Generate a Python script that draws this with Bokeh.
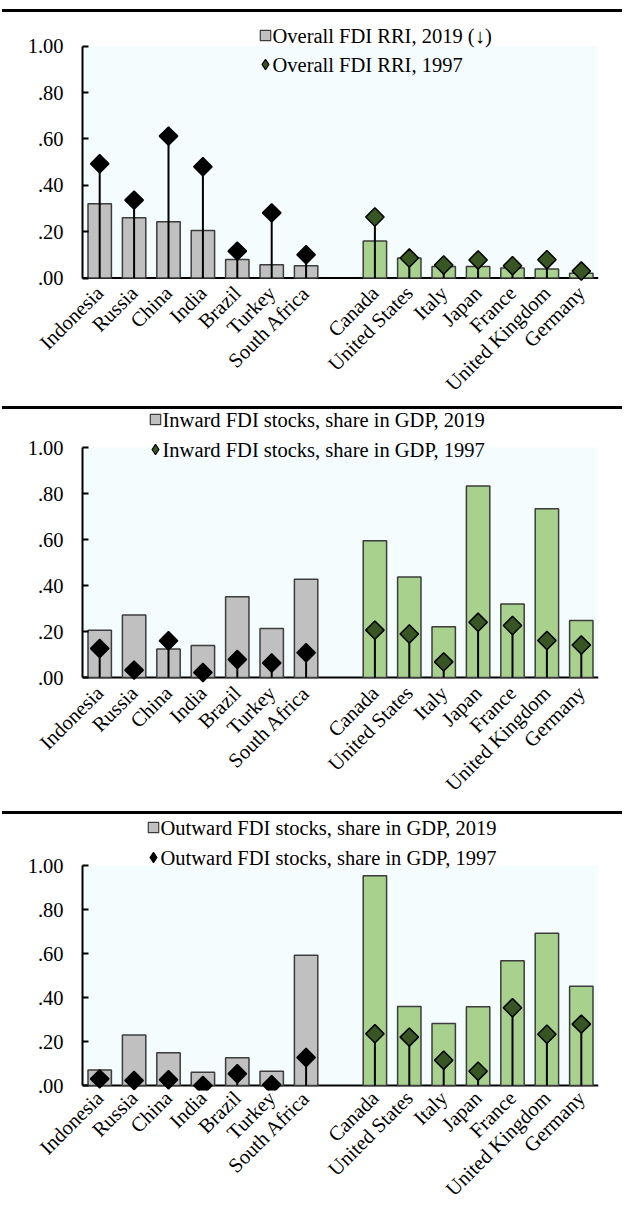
import numpy as np
from bokeh.plotting import figure
from bokeh.models import (Range1d, FixedTicker, CustomJSTickFormatter, Span, Label,
                          BoxAnnotation, Legend, LegendItem, Div)
from bokeh.layouts import column
from bokeh.embed import file_html
from bokeh.resources import INLINE

# ---------------- data ----------------
emerging = ["Indonesia", "Russia", "China", "India", "Brazil", "Turkey", "South Africa"]
advanced = ["Canada", "United States", "Italy", "Japan", "France", "United Kingdom", "Germany"]

rri_2019_em = [0.320, 0.260, 0.243, 0.205, 0.080, 0.057, 0.053]
rri_1997_em = [0.493, 0.336, 0.612, 0.480, 0.116, 0.281, 0.100]
rri_2019_ad = [0.160, 0.086, 0.050, 0.050, 0.043, 0.039, 0.020]
rri_1997_ad = [0.263, 0.086, 0.056, 0.078, 0.053, 0.079, 0.030]

inward_2019_em = [0.205, 0.272, 0.124, 0.139, 0.351, 0.213, 0.427]
inward_1997_em = [0.126, 0.032, 0.160, 0.022, 0.078, 0.063, 0.108]
inward_2019_ad = [0.595, 0.437, 0.221, 0.833, 0.320, 0.734, 0.248]
inward_1997_ad = [0.206, 0.189, 0.068, 0.240, 0.226, 0.161, 0.141]

outward_2019_em = [0.071, 0.229, 0.149, 0.060, 0.126, 0.065, 0.592]
outward_1997_em = [0.030, 0.023, 0.026, 0.000, 0.053, 0.003, 0.127]
outward_2019_ad = [0.953, 0.359, 0.282, 0.358, 0.567, 0.692, 0.451]
outward_1997_ad = [0.235, 0.220, 0.115, 0.065, 0.353, 0.233, 0.279]

y_ticks = [0.0, 0.2, 0.4, 0.6, 0.8, 1.0]

# ---------------- styles ----------------
FONT = "Liberation Serif"
GREY_FILL = "#C0C0C0"
GREEN_FILL = "#A9D18E"
BAR_LINE = "#3C3C3C"
DARK_GREEN = "#375623"
PLOT_BG = "#F5FCFE"
FIG_W = 622

x_em = list(range(len(emerging)))
x_ad = [len(emerging) + 1 + i for i in range(len(advanced))]
n_slots = len(emerging) + 1 + len(advanced)
labels = {x: n for x, n in zip(x_em + x_ad, emerging + advanced)}


def make_panel(fig_top, fig_h, mbb, x_standoff, frame_left, frame_right, zero_px, one_px,
               v19_em, v97_em, v19_ad, v97_ad, lab19, lab97, legend_pos, legend_diamond_color):
    ppu = zero_px - one_px
    mbl = int(round(frame_left - 8))
    mbr = int(round(8 + FIG_W - frame_right))
    frame_left = 8 + mbl
    frame_top = fig_top
    frame_bottom = fig_top + fig_h - mbb
    y0 = -(frame_bottom - zero_px) / ppu
    y1 = (zero_px - frame_top) / ppu

    p = figure(width=FIG_W, height=fig_h, output_backend="svg", toolbar_location=None,
               x_range=Range1d(-0.5, n_slots - 0.5), y_range=Range1d(y0, y1),
               min_border_left=mbl, min_border_right=mbr, min_border_top=0,
               min_border_bottom=mbb)
    p.outline_line_color = None
    p.background_fill_color = "white"
    p.border_fill_color = "white"
    p.xgrid.visible = False
    p.ygrid.visible = False

    p.add_layout(BoxAnnotation(left=-0.5, right=n_slots - 0.5, bottom=0, top=1,
                               fill_color=PLOT_BG, fill_alpha=1, line_color=None,
                               level="underlay"))
    p.add_layout(Span(location=0, dimension="width", line_color="black",
                      line_width=2, level="underlay"))

    # bars
    p.vbar(x=x_em, top=v19_em, bottom=0, width=0.68, fill_color=GREY_FILL,
           line_color=BAR_LINE, line_width=1.5)
    p.vbar(x=x_ad, top=v19_ad, bottom=0, width=0.68, fill_color=GREEN_FILL,
           line_color=BAR_LINE, line_width=1.5)
    # stems
    p.segment(x0=x_em, y0=[0] * len(x_em), x1=x_em, y1=v97_em, line_color="black", line_width=2)
    p.segment(x0=x_ad, y0=[0] * len(x_ad), x1=x_ad, y1=v97_ad, line_color="black", line_width=2)
    # diamonds
    p.scatter(x=x_em, y=v97_em, marker="square", angle=np.pi / 4, size=13,
              fill_color="black", line_color="black", line_width=1.5)
    p.scatter(x=x_ad, y=v97_ad, marker="square", angle=np.pi / 4, size=13,
              fill_color=DARK_GREEN, line_color="black", line_width=1.5)

    # legend glyph proxies (never drawn on the plot: NaN coordinates)
    proxy_bar = p.scatter(x=np.array([np.nan]), y=np.array([np.nan]), marker="square",
                          fill_color=GREY_FILL, line_color=BAR_LINE, line_width=1.2)
    proxy_dia = p.scatter(x=np.array([np.nan]), y=np.array([np.nan]), marker="diamond",
                          fill_color=legend_diamond_color, line_color="black", line_width=1.2)

    G = 26
    for (xc, yc), lab, r in zip(legend_pos, [lab19, lab97], [proxy_bar, proxy_dia]):
        vx = xc - G / 2 - frame_left
        vy = frame_bottom - (yc + G / 2)
        lg = Legend(items=[LegendItem(label=" ", renderers=[r])], location=(vx, vy),
                    glyph_width=G, glyph_height=G, label_height=G, label_width=0,
                    label_standoff=0, padding=0, margin=0, spacing=0,
                    border_line_color=None, background_fill_alpha=0,
                    label_text_font_size="1px")
        p.add_layout(lg)
        p.add_layout(Label(x=xc + 7 - frame_left, y=frame_bottom - yc,
                           x_units="screen", y_units="screen", text=lab,
                           text_font=FONT, text_font_size="20.5px", text_color="black",
                           text_align="left", text_baseline="middle"))

    # y axis
    ya = p.yaxis[0]
    ya.bounds = (0, 1)
    ya.ticker = FixedTicker(ticks=y_ticks)
    ya.formatter = CustomJSTickFormatter(code="return tick.toFixed(2).replace(/^0/, '');")
    ya.axis_line_width = 2
    ya.axis_line_color = "black"
    ya.major_tick_in = 6
    ya.major_tick_out = 0
    ya.major_tick_line_width = 2
    ya.minor_tick_line_color = None
    ya.major_label_standoff = 19
    ya.major_label_text_font = FONT
    ya.major_label_text_font_size = "20.5px"
    ya.major_label_text_color = "black"

    # x axis
    xa = p.xaxis[0]
    xa.ticker = FixedTicker(ticks=x_em + x_ad)
    xa.major_label_overrides = labels
    xa.axis_line_color = None
    xa.major_tick_line_color = None
    xa.major_tick_in = 0
    xa.major_tick_out = 0
    xa.minor_tick_line_color = None
    xa.major_label_orientation = np.pi / 4
    xa.major_label_standoff = x_standoff
    xa.major_label_text_font = FONT
    xa.major_label_text_font_size = "20.5px"
    xa.major_label_text_line_height = 1.0
    xa.major_label_text_color = "black"
    return p


def rule(top):
    return Div(text="", width=620, height=3, margin=(top, 0, 0, 2),
               styles={"background-color": "black"})


p1 = make_panel(12, 394, 121, 4, 83.4, 606, 277.5, 45.7,
                rri_2019_em, rri_1997_em, rri_2019_ad, rri_1997_ad,
                "Overall FDI RRI, 2019 (\u2193)", "Overall FDI RRI, 1997",
                [(266, 35), (266, 64)], DARK_GREEN)
p2 = make_panel(409, 402, 124, 2, 89.5, 609, 677, 447,
                inward_2019_em, inward_1997_em, inward_2019_ad, inward_1997_ad,
                "Inward FDI stocks, share in GDP, 2019", "Inward FDI stocks, share in GDP, 1997",
                [(163, 419.3), (163, 449.3)], DARK_GREEN)
p3 = make_panel(814, 398, 122, 4, 82.6, 609, 1085, 865,
                outward_2019_em, outward_1997_em, outward_2019_ad, outward_1997_ad,
                "Outward FDI stocks, share in GDP, 2019", "Outward FDI stocks, share in GDP, 1997",
                [(154, 827.3), (154, 857.3)], "black")

layout = column(rule(9), p1, rule(0), p2, rule(0), p3, spacing=0)
open("out.html", "w").write(file_html(layout, INLINE))
